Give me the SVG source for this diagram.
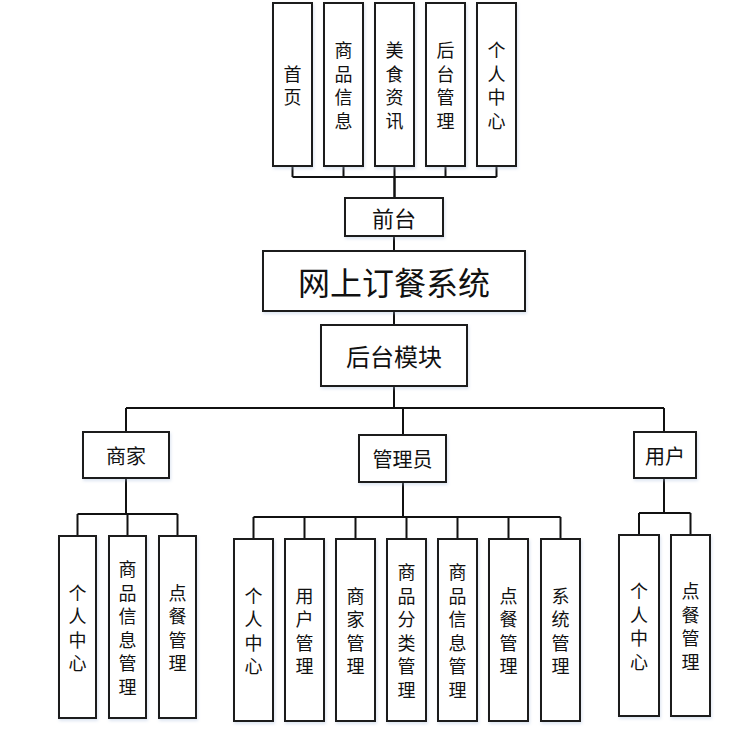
<svg xmlns="http://www.w3.org/2000/svg" width="748" height="730" viewBox="0 0 748 730">
<defs>
<filter id="sh" x="-20%" y="-20%" width="140%" height="140%">
<feGaussianBlur in="SourceAlpha" stdDeviation="1.5"/>
<feOffset dx="1" dy="2" result="b"/>
<feFlood flood-color="#9fb6d8" flood-opacity="0.35"/>
<feComposite in2="b" operator="in"/>
<feMerge><feMergeNode/><feMergeNode in="SourceGraphic"/></feMerge>
</filter>
</defs>
<style>
.box{fill:#ffffff;stroke:#1a1a1a;stroke-width:2;filter:url(#sh)}
.t{font-family:"Noto Sans CJK SC","Noto Sans",sans-serif;fill:#111;text-anchor:middle;dominant-baseline:central}
.v{font-size:18px}
.c{stroke:#111;stroke-width:2;fill:none}
</style>
<rect width="748" height="730" fill="#ffffff"/>
<g id="connectors">
<path class="c" d="M292.5,166V177M343.5,166V177M394.5,166V177M445.5,166V177M496.5,166V177M292.5,177H496.5"/>
<path class="c" style="stroke-width:2.5" d="M394.5,177V198"/>
<path class="c" d="M394,236V251M394,311V325M394,386V408"/>
<path class="c" d="M126,408H664M126,408V432M403,408V435M664,408V432"/>
<path class="c" d="M126,478V514M77.5,514H177.5M77.5,514V536M127.5,514V536M177.5,514V536"/>
<path class="c" d="M403,482V517M253.5,517H560.5M253.5,517V539M304.5,517V539M355.5,517V539M406.5,517V539M457.5,517V539M508.5,517V539M560.5,517V539"/>
<path class="c" d="M664,478V513M639,513H690.5M639,513V535M690.5,513V535"/>
</g>
<g id="n-shouye"><rect class="box" x="273" y="3" width="39" height="163"/><text class="t v"><tspan x="292.5" y="72.75">首</tspan><tspan x="292.5" y="96.25">页</tspan></text></g>
<g id="n-spxx"><rect class="box" x="324" y="3" width="39" height="163"/><text class="t v"><tspan x="343.5" y="49.25">商</tspan><tspan x="343.5" y="72.75">品</tspan><tspan x="343.5" y="96.25">信</tspan><tspan x="343.5" y="119.75">息</tspan></text></g>
<g id="n-msxx"><rect class="box" x="375" y="3" width="39" height="163"/><text class="t v"><tspan x="394.5" y="49.25">美</tspan><tspan x="394.5" y="72.75">食</tspan><tspan x="394.5" y="96.25">资</tspan><tspan x="394.5" y="119.75">讯</tspan></text></g>
<g id="n-htgl"><rect class="box" x="426" y="3" width="39" height="163"/><text class="t v"><tspan x="445.5" y="49.25">后</tspan><tspan x="445.5" y="72.75">台</tspan><tspan x="445.5" y="96.25">管</tspan><tspan x="445.5" y="119.75">理</tspan></text></g>
<g id="n-grzx"><rect class="box" x="477" y="3" width="39" height="163"/><text class="t v"><tspan x="496.5" y="49.25">个</tspan><tspan x="496.5" y="72.75">人</tspan><tspan x="496.5" y="96.25">中</tspan><tspan x="496.5" y="119.75">心</tspan></text></g>
<g id="n-qiantai"><rect class="box" x="345" y="198" width="98" height="38"/><text class="t" x="394" y="217" font-size="22">前台</text></g>
<g id="n-system"><rect class="box" x="263" y="251" width="262" height="60"/><text class="t" x="394" y="281" font-size="32">网上订餐系统</text></g>
<g id="n-houtai"><rect class="box" x="321" y="325" width="146" height="61"/><text class="t" x="394" y="355.5" font-size="24">后台模块</text></g>
<g id="n-shangjia"><rect class="box" x="83" y="432" width="86" height="46"/><text class="t" x="126" y="455" font-size="20">商家</text></g>
<g id="n-admin"><rect class="box" x="359" y="435" width="87" height="47"/><text class="t" x="402.5" y="458.5" font-size="20">管理员</text></g>
<g id="n-user"><rect class="box" x="634" y="432" width="62" height="46"/><text class="t" x="665" y="455" font-size="20">用户</text></g>
<g id="n-sj-grzx"><rect class="box" x="59" y="536" width="37" height="182"/><text class="t v"><tspan x="77.5" y="591.75">个</tspan><tspan x="77.5" y="615.25">人</tspan><tspan x="77.5" y="638.75">中</tspan><tspan x="77.5" y="662.25">心</tspan></text></g>
<g id="n-sj-spxxgl"><rect class="box" x="109" y="536" width="37" height="182"/><text class="t v"><tspan x="127.5" y="568.25">商</tspan><tspan x="127.5" y="591.75">品</tspan><tspan x="127.5" y="615.25">信</tspan><tspan x="127.5" y="638.75">息</tspan><tspan x="127.5" y="662.25">管</tspan><tspan x="127.5" y="685.75">理</tspan></text></g>
<g id="n-sj-dcgl"><rect class="box" x="159" y="536" width="37" height="182"/><text class="t v"><tspan x="177.5" y="591.75">点</tspan><tspan x="177.5" y="615.25">餐</tspan><tspan x="177.5" y="638.75">管</tspan><tspan x="177.5" y="662.25">理</tspan></text></g>
<g id="n-ad-grzx"><rect class="box" x="234" y="539" width="39" height="182"/><text class="t v"><tspan x="253.5" y="594.75">个</tspan><tspan x="253.5" y="618.25">人</tspan><tspan x="253.5" y="641.75">中</tspan><tspan x="253.5" y="665.25">心</tspan></text></g>
<g id="n-ad-yhgl"><rect class="box" x="285" y="539" width="39" height="182"/><text class="t v"><tspan x="304.5" y="594.75">用</tspan><tspan x="304.5" y="618.25">户</tspan><tspan x="304.5" y="641.75">管</tspan><tspan x="304.5" y="665.25">理</tspan></text></g>
<g id="n-ad-sjgl"><rect class="box" x="336" y="539" width="39" height="182"/><text class="t v"><tspan x="355.5" y="594.75">商</tspan><tspan x="355.5" y="618.25">家</tspan><tspan x="355.5" y="641.75">管</tspan><tspan x="355.5" y="665.25">理</tspan></text></g>
<g id="n-ad-spflgl"><rect class="box" x="387" y="539" width="39" height="182"/><text class="t v"><tspan x="406.5" y="571.25">商</tspan><tspan x="406.5" y="594.75">品</tspan><tspan x="406.5" y="618.25">分</tspan><tspan x="406.5" y="641.75">类</tspan><tspan x="406.5" y="665.25">管</tspan><tspan x="406.5" y="688.75">理</tspan></text></g>
<g id="n-ad-spxxgl"><rect class="box" x="438" y="539" width="39" height="182"/><text class="t v"><tspan x="457.5" y="571.25">商</tspan><tspan x="457.5" y="594.75">品</tspan><tspan x="457.5" y="618.25">信</tspan><tspan x="457.5" y="641.75">息</tspan><tspan x="457.5" y="665.25">管</tspan><tspan x="457.5" y="688.75">理</tspan></text></g>
<g id="n-ad-dcgl"><rect class="box" x="489" y="539" width="39" height="182"/><text class="t v"><tspan x="508.5" y="594.75">点</tspan><tspan x="508.5" y="618.25">餐</tspan><tspan x="508.5" y="641.75">管</tspan><tspan x="508.5" y="665.25">理</tspan></text></g>
<g id="n-ad-xtgl"><rect class="box" x="541" y="539" width="39" height="182"/><text class="t v"><tspan x="560.5" y="594.75">系</tspan><tspan x="560.5" y="618.25">统</tspan><tspan x="560.5" y="641.75">管</tspan><tspan x="560.5" y="665.25">理</tspan></text></g>
<g id="n-us-grzx"><rect class="box" x="619" y="535" width="40" height="181"/><text class="t v"><tspan x="639" y="590.25">个</tspan><tspan x="639" y="613.75">人</tspan><tspan x="639" y="637.25">中</tspan><tspan x="639" y="660.75">心</tspan></text></g>
<g id="n-us-dcgl"><rect class="box" x="671" y="535" width="39" height="181"/><text class="t v"><tspan x="690.5" y="590.25">点</tspan><tspan x="690.5" y="613.75">餐</tspan><tspan x="690.5" y="637.25">管</tspan><tspan x="690.5" y="660.75">理</tspan></text></g>
</svg>
